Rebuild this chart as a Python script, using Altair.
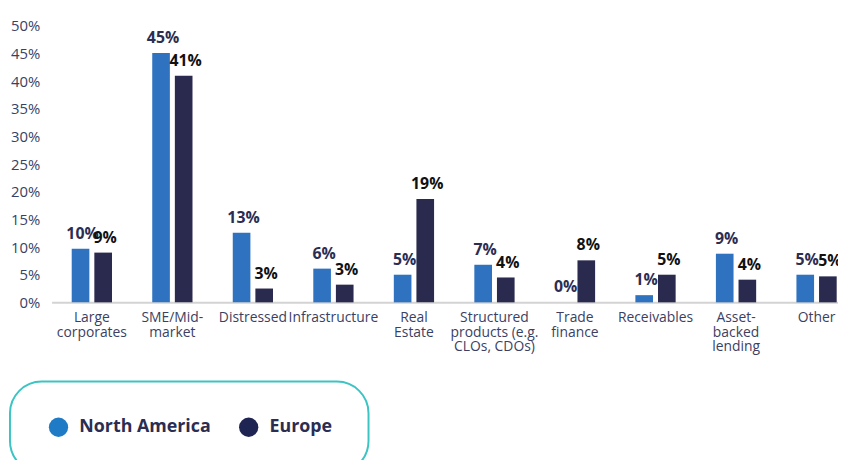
import altair as alt
import pandas as pd

categories = [
    "Large\ncorporates",
    "SME/Mid-\nmarket",
    "Distressed",
    "Infrastructure",
    "Real\nEstate",
    "Structured\nproducts (e.g.\nCLOs, CDOs)",
    "Trade\nfinance",
    "Receivables",
    "Asset-\nbacked\nlending",
    "Other",
]
regions = ["North America", "Europe"]
na_values = [9.7, 45.1, 12.6, 6.1, 5.0, 6.8, 0.0, 1.3, 8.8, 5.0]
eu_values = [9.0, 41.0, 2.5, 3.2, 18.7, 4.5, 7.6, 5.0, 4.1, 4.7]
na_labels = ["10%", "45%", "13%", "6%", "5%", "7%", "0%", "1%", "9%", "5%"]
eu_labels = ["9%", "41%", "3%", "3%", "19%", "4%", "8%", "5%", "4%", "5%"]
y_ticks = [0, 0.05, 0.10, 0.15, 0.20, 0.25, 0.30, 0.35, 0.40, 0.45, 0.50]

bar_colors = ["#2f73c0", "#2a2a4e"]
legend_colors = ["#1f7bc6", "#1e2552"]
text_colors = ["#2b2d52", "#111111"]

rows = []
for i, c in enumerate(categories):
    rows.append({"category": c, "region": regions[0], "value": na_values[i] / 100,
                 "label": na_labels[i], "tcolor": text_colors[0]})
    rows.append({"category": c, "region": regions[1], "value": eu_values[i] / 100,
                 "label": eu_labels[i], "tcolor": text_colors[1]})
df = pd.DataFrame(rows)

FONT = "Open Sans"

x_enc = alt.X(
    "category:N",
    sort=categories,
    scale=alt.Scale(range=[0, 813], paddingInner=0.5, paddingOuter=0.25),
    axis=alt.Axis(
        title=None, labelAngle=0, labelExpr="split(datum.label, '\\n')",
        ticks=False, domainColor="#d3d3d3", domainWidth=2,
        labelFont=FONT, labelFontSize=14, labelColor="#3b3f63",
        labelLineHeight=15, labelPadding=8, labelBaseline="top", labelLimit=200,
    ),
)
xoff = alt.XOffset("region:N", sort=regions, scale=alt.Scale(paddingInner=0.22))
y_enc = alt.Y(
    "value:Q",
    scale=alt.Scale(domain=[0, 0.5]),
    axis=alt.Axis(
        title=None, values=y_ticks, format=".0%", grid=False, ticks=False,
        domain=False, labelFont=FONT, labelFontSize=15, labelColor="#3b3f63",
        labelPadding=12,
    ),
)

bars = alt.Chart(df).mark_bar().encode(
    x=x_enc,
    xOffset=xoff,
    y=y_enc,
    color=alt.Color(
        "region:N",
        scale=alt.Scale(domain=regions, range=bar_colors),
        legend=None,
    ),
)

legend_layer = alt.Chart(df).mark_point(filled=True, opacity=0).encode(
    x=x_enc,
    xOffset=xoff,
    y=y_enc,
    fill=alt.Fill(
        "region:N",
        scale=alt.Scale(domain=regions, range=legend_colors),
        legend=alt.Legend(
            title=None, orient="none", legendX=-42, legendY=359,
            direction="horizontal", symbolType="circle", symbolSize=380,
            symbolStrokeWidth=0, symbolOpacity=1, symbolOffset=3,
            labelFont=FONT, labelFontSize=18, labelFontWeight="bold",
            labelColor="#2b2d52", labelOffset=11, columnPadding=25,
            padding=36, strokeColor="#3cc4c4", cornerRadius=32,
        ),
    ),
)

texts = alt.Chart(df).mark_text(
    font=FONT, fontSize=16, fontWeight="bold", baseline="alphabetic", dy=-10, dx=2
).encode(
    x=x_enc,
    xOffset=xoff,
    y=y_enc,
    text="label:N",
    color=alt.Color("tcolor:N", scale=None),
)

chart = alt.layer(bars, legend_layer, texts).resolve_scale(
    color="independent", fill="independent"
).properties(
    width=794,
    height=279,
    autosize=alt.AutoSizeParams(type="none"),
    padding={"left": 44, "top": 16, "right": 0, "bottom": 157},
).configure_view(stroke=None).configure_legend(strokeWidth=2)

chart.save("out.html", embed_options={"renderer": "svg", "actions": False})
